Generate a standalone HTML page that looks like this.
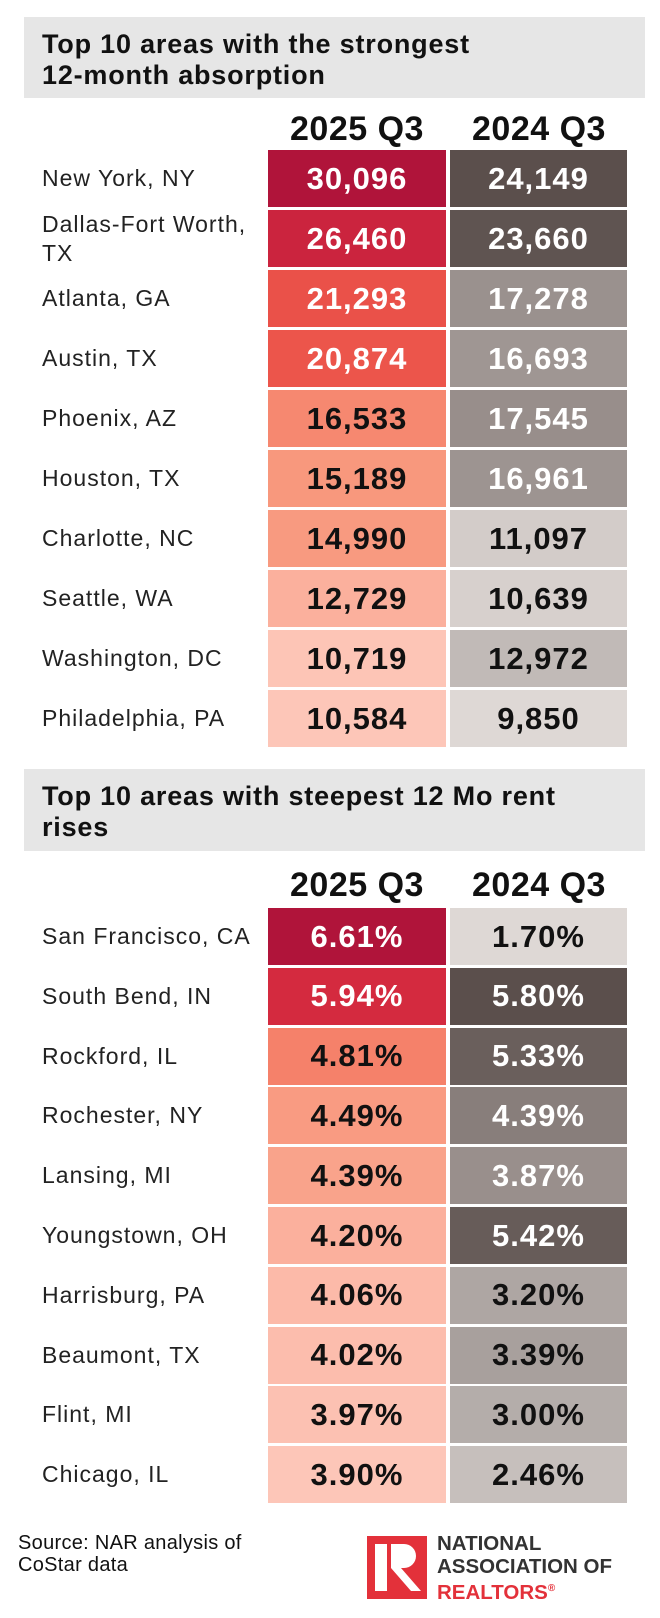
<!DOCTYPE html>
<html><head><meta charset="utf-8">
<style>
body{margin:0;background:#fff;width:660px;height:1618px;position:relative;font-family:"Liberation Sans",sans-serif;overflow:hidden}
.hdr{position:absolute;left:24px;width:621px;background:#e6e6e6;font-weight:bold;font-size:27px;line-height:31px;letter-spacing:0.8px;padding:0 0 0 18px;box-sizing:border-box;color:#111}
.col{position:absolute;font-weight:bold;font-size:34px;line-height:34px;text-align:center;width:178px;color:#111;letter-spacing:0.5px}
.lab{position:absolute;left:42px;font-size:23px;color:#222;line-height:29px;letter-spacing:1px;width:226px;display:flex;align-items:center}
.cell{position:absolute;height:57px;display:flex;align-items:center;justify-content:center;font-weight:bold;font-size:31px;letter-spacing:1px}
</style></head><body>
<div class="hdr" style="top:17px;height:81px;padding-top:12px">Top 10 areas with the strongest<br>12-month absorption</div>
<div class="col" style="left:268px;top:112px">2025 Q3</div>
<div class="col" style="left:450px;top:112px">2024 Q3</div>
<div class="hdr" style="top:769px;height:82px;padding-top:12px">Top 10 areas with steepest 12 Mo rent<br>rises</div>
<div class="col" style="left:268px;top:868px">2025 Q3</div>
<div class="col" style="left:450px;top:868px">2024 Q3</div>
<div id="t1"></div>
<div id="t2"></div>
<div style="position:absolute;left:18px;top:1532px;font-size:20px;line-height:22px;color:#111;letter-spacing:0.3px">Source: NAR analysis of<br>CoStar data</div>
<div style="position:absolute;left:367px;top:1536px;width:60px;height:63px;background:#e3313a">
<svg width="60" height="63"><rect x="8" y="8" width="12" height="47" fill="#fff"/><path d="M24 8h13a12 12 0 0 1 0 24h-3l20 23h-10l-20-23z" fill="#fff"/></svg></div>
<div style="position:absolute;left:437px;top:1533px;font-weight:bold;font-size:20.5px;line-height:22.5px;color:#333">NATIONAL<br>ASSOCIATION OF<br><span style="color:#e3313a">REALTORS<sup style="font-size:10px">®</sup></span></div>
<script>
const absCities=["New York, NY","Dallas-Fort Worth, TX","Atlanta, GA","Austin, TX","Phoenix, AZ","Houston, TX","Charlotte, NC","Seattle, WA","Washington, DC","Philadelphia, PA"];
const abs2025=[30096,26460,21293,20874,16533,15189,14990,12729,10719,10584];
const abs2024=[24149,23660,17278,16693,17545,16961,11097,10639,12972,9850];
const rentCities=["San Francisco, CA","South Bend, IN","Rockford, IL","Rochester, NY","Lansing, MI","Youngstown, OH","Harrisburg, PA","Beaumont, TX","Flint, MI","Chicago, IL"];
const rent2025=[6.61,5.94,4.81,4.49,4.39,4.20,4.06,4.02,3.97,3.90];
const rent2024=[1.70,5.80,5.33,4.39,3.87,5.42,3.20,3.39,3.00,2.46];
function lerp(a,b,t){return a.map((v,i)=>Math.round(v+(b[i]-v)*t));}
function redColor(t){const stops=[[253,198,184],[248,149,122],[239,90,76],[212,42,63],[176,20,58]];
 const p=t*(stops.length-1),i=Math.min(Math.floor(p),stops.length-2);return lerp(stops[i],stops[i+1],p-i);}
function greyColor(t){return lerp([222,216,213],[91,79,76],t);}
function build(id,cities,a,b,top,rowH,fmt){
 const root=document.getElementById(id);
 const mina=Math.min(...a),maxa=Math.max(...a),minb=Math.min(...b),maxb=Math.max(...b);
 cities.forEach((c,i)=>{
  const y=top+i*rowH;
  const l=document.createElement('div');l.className='lab';
  
  
  l.textContent=c;l.style.top=y+'px';l.style.height='57px';root.appendChild(l);
  [[a,mina,maxa,268,178,redColor,0.45],[b,minb,maxb,450,177,greyColor,0.45]].forEach(([arr,mn,mx,x,w,cf,th],k)=>{
   const t=(arr[i]-mn)/(mx-mn);const col=cf(t);
   const d=document.createElement('div');d.className='cell';
   
   
   d.style.left=x+'px';d.style.width=w+'px';d.style.top=y+'px';
   d.style.background='rgb('+col.join(',')+')';
   d.style.color=t>th?'#fff':'#111';
   d.textContent=fmt(arr[i]);root.appendChild(d);
  });
 });
}
build('t1',absCities,abs2025,abs2024,150,60,v=>v.toLocaleString('en-US'));
build('t2',rentCities,rent2025,rent2024,908,59.8,v=>v.toFixed(2)+'%');
</script>
</body></html>
